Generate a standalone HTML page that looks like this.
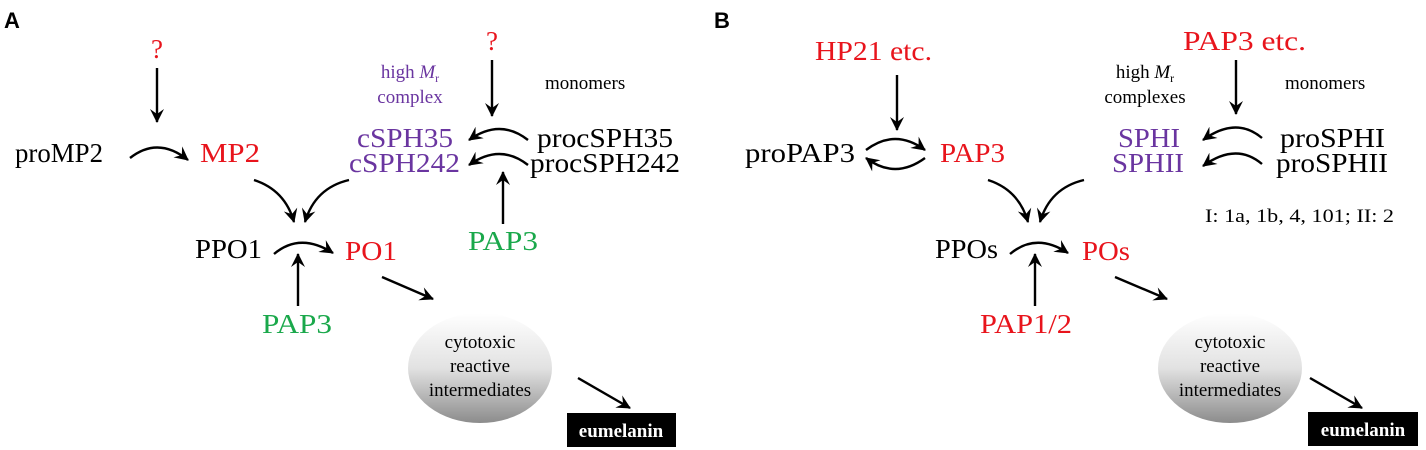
<!DOCTYPE html>
<html><head><meta charset="utf-8"><style>
html,body{margin:0;padding:0;background:#fff;}
svg{display:block;}
text{font-family:"Liberation Serif",serif;}
.b{font-size:27px;fill:#000;}
.r{font-size:27px;fill:#e8141c;}
.p{font-size:27px;fill:#6a35a0;}
.g{font-size:27px;fill:#1aa84b;}
.s{font-size:19px;fill:#000;}
.sp{font-size:19px;fill:#6a35a0;}
.l{stroke:#000;stroke-width:2.4;fill:none;}
</style></head><body>
<svg width="1426" height="450" viewBox="0 0 1426 450" xmlns="http://www.w3.org/2000/svg">
<defs>
<marker id="a" markerWidth="16" markerHeight="14" refX="13" refY="7" orient="auto" markerUnits="userSpaceOnUse">
<path d="M0,0 L14,7 L0,14 L5,7 Z" fill="#000"/></marker>
<linearGradient id="gr" x1="0" y1="0" x2="0" y2="1">
<stop offset="0" stop-color="#ffffff"/><stop offset="0.5" stop-color="#e2e2e2"/><stop offset="1" stop-color="#8c8c8c"/></linearGradient>
</defs>
<!-- Panel A -->
<text x="4" y="28" style="font-family:'Liberation Sans',sans-serif;font-weight:bold;font-size:22px">A</text>
<text x="157" y="58" class="r" text-anchor="middle">?</text>
<line x1="157" y1="68" x2="157" y2="122" class="l" marker-end="url(#a)"/>
<text x="15" y="162" class="b" textLength="88" lengthAdjust="spacingAndGlyphs">proMP2</text>
<path d="M130,158 Q158,136 188,160" class="l" marker-end="url(#a)"/>
<text x="200" y="162" class="r" textLength="60" lengthAdjust="spacingAndGlyphs">MP2</text>
<text x="492" y="50" class="r" text-anchor="middle">?</text>
<line x1="492" y1="60" x2="492" y2="116" class="l" marker-end="url(#a)"/>
<text x="410" y="78" class="sp" text-anchor="middle">high <tspan font-style="italic">M</tspan><tspan font-size="12" dy="4">r</tspan></text>
<text x="410" y="103" class="sp" text-anchor="middle">complex</text>
<text x="545" y="89" class="s">monomers</text>
<text x="357" y="147" class="p" textLength="96" lengthAdjust="spacingAndGlyphs">cSPH35</text>
<text x="349" y="172" class="p" textLength="111" lengthAdjust="spacingAndGlyphs">cSPH242</text>
<text x="537" y="147" class="b" textLength="136" lengthAdjust="spacingAndGlyphs">procSPH35</text>
<text x="530" y="172" class="b" textLength="150" lengthAdjust="spacingAndGlyphs">procSPH242</text>
<path d="M528,140 Q500,118 469,140" class="l" marker-end="url(#a)"/>
<path d="M528,165 Q500,143 469,165" class="l" marker-end="url(#a)"/>
<line x1="503" y1="224" x2="503" y2="172" class="l" marker-end="url(#a)"/>
<text x="503" y="250" class="g" text-anchor="middle" textLength="70" lengthAdjust="spacingAndGlyphs">PAP3</text>
<path d="M254,180 Q285,190 294,222" class="l" marker-end="url(#a)"/>
<path d="M349,180 Q315,188 305,222" class="l" marker-end="url(#a)"/>
<text x="195" y="258" class="b" textLength="67" lengthAdjust="spacingAndGlyphs">PPO1</text>
<path d="M274,254 Q300,232 333,253" class="l" marker-end="url(#a)"/>
<text x="345" y="260" class="r" textLength="52" lengthAdjust="spacingAndGlyphs">PO1</text>
<line x1="298" y1="306" x2="298" y2="254" class="l" marker-end="url(#a)"/>
<text x="297" y="333" class="g" text-anchor="middle" textLength="70" lengthAdjust="spacingAndGlyphs">PAP3</text>
<line x1="382" y1="277" x2="433" y2="299" class="l" marker-end="url(#a)"/>
<ellipse cx="480" cy="368" rx="72" ry="55" fill="url(#gr)"/>
<text x="480" y="348" class="s" text-anchor="middle">cytotoxic</text>
<text x="480" y="372" class="s" text-anchor="middle">reactive</text>
<text x="480" y="396" class="s" text-anchor="middle">intermediates</text>
<line x1="578" y1="378" x2="630" y2="408" class="l" marker-end="url(#a)"/>
<rect x="567" y="413" width="109" height="34" fill="#000"/>
<text x="621" y="437" text-anchor="middle" style="font-size:19px;font-weight:bold;fill:#fff">eumelanin</text>
<!-- Panel B -->
<text x="714" y="28" style="font-family:'Liberation Sans',sans-serif;font-weight:bold;font-size:22px">B</text>
<text x="815" y="60" class="r" textLength="117" lengthAdjust="spacingAndGlyphs">HP21 etc.</text>
<line x1="897" y1="75" x2="897" y2="130" class="l" marker-end="url(#a)"/>
<text x="745" y="162" class="b" textLength="110" lengthAdjust="spacingAndGlyphs">proPAP3</text>
<path d="M866,150 Q895,128 925,150" class="l" marker-end="url(#a)"/>
<path d="M925,158 Q895,180 866,158" class="l" marker-end="url(#a)"/>
<text x="940" y="162" class="r" textLength="65" lengthAdjust="spacingAndGlyphs">PAP3</text>
<text x="1183" y="50" class="r" textLength="123" lengthAdjust="spacingAndGlyphs">PAP3 etc.</text>
<line x1="1236" y1="60" x2="1236" y2="114" class="l" marker-end="url(#a)"/>
<text x="1145" y="78" class="s" text-anchor="middle">high <tspan font-style="italic">M</tspan><tspan font-size="12" dy="4">r</tspan></text>
<text x="1145" y="103" class="s" text-anchor="middle">complexes</text>
<text x="1285" y="89" class="s">monomers</text>
<text x="1118" y="147" class="p" textLength="62" lengthAdjust="spacingAndGlyphs">SPHI</text>
<text x="1112" y="172" class="p" textLength="72" lengthAdjust="spacingAndGlyphs">SPHII</text>
<text x="1280" y="147" class="b" textLength="105" lengthAdjust="spacingAndGlyphs">proSPHI</text>
<text x="1276" y="172" class="b" textLength="112" lengthAdjust="spacingAndGlyphs">proSPHII</text>
<path d="M1262,138 Q1236,116 1203,140" class="l" marker-end="url(#a)"/>
<path d="M1262,164 Q1236,142 1203,166" class="l" marker-end="url(#a)"/>
<text x="1205" y="222" class="s" textLength="189" lengthAdjust="spacingAndGlyphs">I: 1a, 1b, 4, 101; II: 2</text>
<path d="M988,180 Q1019,190 1028,222" class="l" marker-end="url(#a)"/>
<path d="M1084,180 Q1050,188 1040,222" class="l" marker-end="url(#a)"/>
<text x="935" y="258" class="b" textLength="63" lengthAdjust="spacingAndGlyphs">PPOs</text>
<path d="M1010,254 Q1036,232 1068,253" class="l" marker-end="url(#a)"/>
<text x="1082" y="260" class="r" textLength="48" lengthAdjust="spacingAndGlyphs">POs</text>
<line x1="1035" y1="306" x2="1035" y2="254" class="l" marker-end="url(#a)"/>
<text x="1026" y="333" class="r" text-anchor="middle" textLength="92" lengthAdjust="spacingAndGlyphs">PAP1/2</text>
<line x1="1115" y1="277" x2="1167" y2="299" class="l" marker-end="url(#a)"/>
<ellipse cx="1230" cy="368" rx="72" ry="55" fill="url(#gr)"/>
<text x="1230" y="348" class="s" text-anchor="middle">cytotoxic</text>
<text x="1230" y="372" class="s" text-anchor="middle">reactive</text>
<text x="1230" y="396" class="s" text-anchor="middle">intermediates</text>
<line x1="1310" y1="378" x2="1362" y2="408" class="l" marker-end="url(#a)"/>
<rect x="1308" y="412" width="110" height="34" fill="#000"/>
<text x="1363" y="436" text-anchor="middle" style="font-size:19px;font-weight:bold;fill:#fff">eumelanin</text>
</svg>
</body></html>
